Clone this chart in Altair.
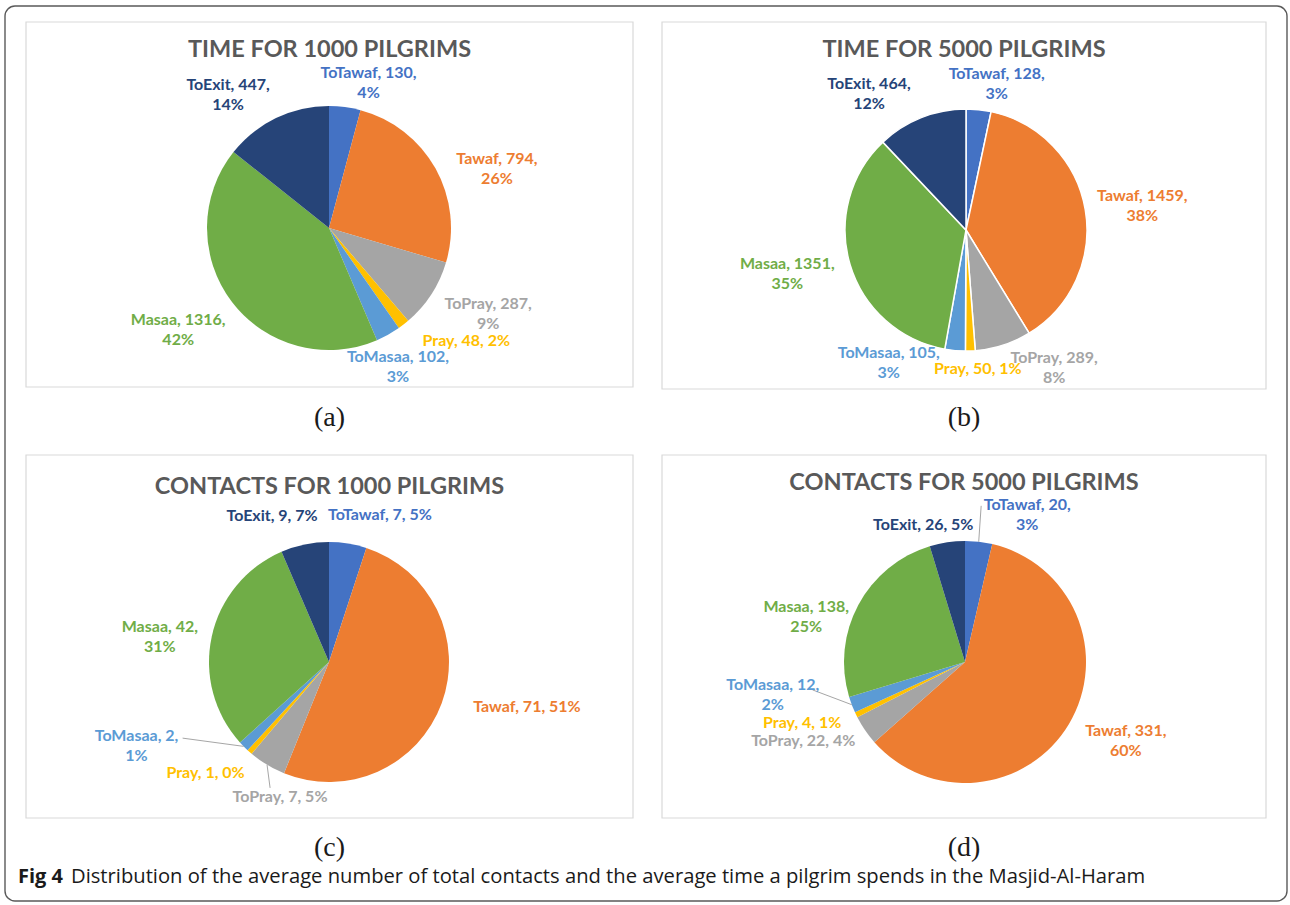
import altair as alt
import pandas as pd

# Activity categories, in clockwise order starting at 12 o'clock
categories = ["ToTawaf", "Tawaf", "ToPray", "Pray", "ToMasaa", "Masaa", "ToExit"]
colors = ["#4472C4", "#ED7D31", "#A5A5A5", "#FFC000", "#5B9BD5", "#70AD47", "#264478"]

# Average time (a, b) and average contacts (c, d) per activity
time_1000 = [130, 794, 287, 48, 102, 1316, 447]
time_1000_pct = [4, 26, 9, 2, 3, 42, 14]
time_5000 = [128, 1459, 289, 50, 105, 1351, 464]
time_5000_pct = [3, 38, 8, 1, 3, 35, 12]
contacts_1000 = [7, 71, 7, 1, 2, 42, 9]
contacts_1000_pct = [5, 51, 5, 0, 1, 31, 7]
contacts_5000 = [20, 331, 22, 4, 12, 138, 26]
contacts_5000_pct = [3, 60, 4, 1, 2, 25, 5]

titles = ["TIME FOR 1000 PILGRIMS", "TIME FOR 5000 PILGRIMS",
          "CONTACTS  FOR 1000 PILGRIMS", "CONTACTS  FOR 5000 PILGRIMS"]
tags = ["(a)", "(b)", "(c)", "(d)"]
caption_head = "Fig 4"
caption_text = ("Distribution of the average number of total contacts and the average "
                "time a pilgrim spends in the Masjid-Al-Haram")

# Panel layout: frame box, pie centre and radius, title/tag rows, slice separator
panels = [
    dict(values=time_1000, pct=time_1000_pct, box=(26, 22, 633, 387),
         center=(329, 228), r=122, title_y=50, tag_y=418, sep=0),
    dict(values=time_5000, pct=time_5000_pct, box=(662, 22, 1266, 389),
         center=(966, 230), r=121, title_y=50, tag_y=418, sep=1.5),
    dict(values=contacts_1000, pct=contacts_1000_pct, box=(26, 455, 633, 818),
         center=(329, 662), r=120, title_y=487, tag_y=848, sep=0),
    dict(values=contacts_5000, pct=contacts_5000_pct, box=(662, 455, 1266, 818),
         center=(965, 662), r=121, title_y=483, tag_y=848, sep=0),
]

# Data-label placement per slice: (distance from centre, angular nudge in degrees, wrapped)
label_place = [
    [(150, 7.8, True), (178, 9.9, True), (181, -4.6, True), (178, -12.8, False),
     (155, 2.6, True), (182, 3.3, True), (167, -11.4, True)],
    [(149, 5.9, True), (178, 1.9, True), (164, -14.6, True), (140, -2.8, False),
     (154, 24.9, True), (184, 2.9, True), (167, -13.8, True)],
    [(156, 10.0, False), (203, -7.3, False), (144, -11.2, False), (166, 6.6, False),
     (210, 21.1, True), (171, -3.9, True), (157, -9.6, False)],
    [(160, 16.4, True), (179, -4.7, True), (180, 8.3, False), (174, 5.2, False),
     (195, 11.0, True), (165, -12.4, True), (143, -8.5, False)],
]
# Leader lines: panel index -> {category: (end distance, angular nudge)}
leader_place = {
    2: {"ToMasaa": (165, 17.2), "ToPray": (139, -6.0)},
    3: {"ToTawaf": (157, -0.6), "ToMasaa": (155, 10.3)},
}

LABEL_FONT = "Lato"
LABEL_SIZE = 16
LINE_H = 20
color_scale = alt.Scale(domain=categories, range=colors)
one_row = pd.DataFrame({"k": [0]})


def panel_layers(i, p):
    cx, cy = p["center"]
    r = p["r"]
    place = label_place[i]
    leads = leader_place.get(i, {})
    labels = []
    for cat, v, pc, (_, _, wrap) in zip(categories, p["values"], p["pct"], place):
        labels.append(f"{cat}, {v}," + ("\n" if wrap else " ") + f"{pc}%")
    df = pd.DataFrame({
        "order": list(range(len(categories))),
        "category": categories,
        "value": p["values"],
        "label": labels,
        "lines": [2 if w else 1 for _, _, w in place],
        "dist": [d for d, _, _ in place],
        "turn": [t for _, t, _ in place],
        "lead_dist": [leads[c][0] if c in leads else None for c in categories],
        "lead_turn": [leads[c][1] if c in leads else None for c in categories],
    })

    base = (
        alt.Chart(df)
        .transform_joinaggregate(total="sum(value)")
        .transform_window(cum="sum(value)", sort=[alt.SortField("order")], frame=[None, 0])
        .transform_calculate(
            t1="2*PI*datum.cum/datum.total",
            t0="2*PI*(datum.cum-datum.value)/datum.total",
        )
        .transform_calculate(mid="(datum.t0+datum.t1)/2")
    )

    layers = []
    x0, y0, x1, y1 = p["box"]
    layers.append(
        alt.Chart(one_row).mark_rect(fill="white", stroke="#D9D9D9", strokeWidth=1.2)
        .encode(x=alt.value(x0), x2=alt.value(x1), y=alt.value(y0), y2=alt.value(y1))
    )

    arc_kw = dict(radius=r)
    if p["sep"] > 0:
        arc_kw.update(stroke="white", strokeWidth=p["sep"])
    layers.append(
        base.mark_arc(**arc_kw).encode(
            theta=alt.Theta("t0:Q", scale=None),
            theta2=alt.Theta2("t1:Q"),
            color=alt.Color("category:N", scale=color_scale, legend=None),
            x=alt.value(cx),
            y=alt.value(cy),
        )
    )

    if leads:
        layers.append(
            base.transform_filter("isValid(datum.lead_dist)")
            .transform_calculate(
                la="datum.mid + datum.lead_turn*PI/180",
                sx=f"{cx} + {r}*sin(datum.mid)",
                sy=f"{cy} - {r}*cos(datum.mid)",
            )
            .transform_calculate(
                ex=f"{cx} + datum.lead_dist*sin(datum.la)",
                ey=f"{cy} - datum.lead_dist*cos(datum.la)",
            )
            .mark_rule(color="#A6A6A6", strokeWidth=1)
            .encode(
                x=alt.X("sx:Q", scale=None, axis=None),
                y=alt.Y("sy:Q", scale=None, axis=None),
                x2=alt.X2("ex:Q"),
                y2=alt.Y2("ey:Q"),
            )
        )

    # label blocks are centred on their anchor: first line sits half a block higher
    layers.append(
        base.transform_calculate(a="datum.mid + datum.turn*PI/180")
        .transform_calculate(
            lx=f"{cx} + datum.dist*sin(datum.a)",
            ly=f"{cy} - datum.dist*cos(datum.a) - (datum.lines-1)*{LINE_H}/2",
        )
        .mark_text(font=LABEL_FONT, fontSize=LABEL_SIZE, fontWeight="bold", lineBreak="\n",
                   lineHeight=LINE_H, align="center", baseline="middle")
        .encode(
            x=alt.X("lx:Q", scale=None, axis=None),
            y=alt.Y("ly:Q", scale=None, axis=None),
            text=alt.Text("label:N"),
            color=alt.Color("category:N", scale=color_scale, legend=None),
        )
    )

    layers.append(
        alt.Chart(one_row).mark_text(text=titles[i], font=LABEL_FONT, fontSize=23.5,
                                     fontWeight="bold", color="#595959",
                                     align="center", baseline="middle")
        .encode(x=alt.value((x0 + x1) / 2), y=alt.value(p["title_y"]))
    )
    layers.append(
        alt.Chart(one_row).mark_text(text=tags[i], font="Liberation Serif", fontSize=28,
                                     color="#1a1a1a", align="center", baseline="middle")
        .encode(x=alt.value((x0 + x1) / 2), y=alt.value(p["tag_y"]))
    )
    return layers


frame = (
    alt.Chart(one_row)
    .mark_rect(cornerRadius=10, fillOpacity=0, stroke="#5a5a5a", strokeWidth=1.4)
    .encode(x=alt.value(5), x2=alt.value(1287), y=alt.value(6), y2=alt.value(901))
)

all_layers = [frame]
for i, p in enumerate(panels):
    all_layers.extend(panel_layers(i, p))

CAPTION_FONT = "Open Sans"
all_layers.append(
    alt.Chart(one_row).mark_text(text=caption_head, font=CAPTION_FONT, fontSize=20,
                                 fontWeight="bold", color="#1a1a1a", align="left",
                                 baseline="middle")
    .encode(x=alt.value(18), y=alt.value(877))
)
all_layers.append(
    alt.Chart(one_row).mark_text(text=caption_text, font=CAPTION_FONT, fontSize=20.2,
                                 color="#1a1a1a", align="left", baseline="middle")
    .encode(x=alt.value(71), y=alt.value(877))
)

chart = (
    alt.layer(*all_layers)
    .properties(width=1290, height=905, padding=0,
                autosize=alt.AutoSizeParams(type="none"), background="white")
    .configure_view(stroke=None)
)

chart.save("out.html", embed_options={"renderer": "svg", "actions": False})
